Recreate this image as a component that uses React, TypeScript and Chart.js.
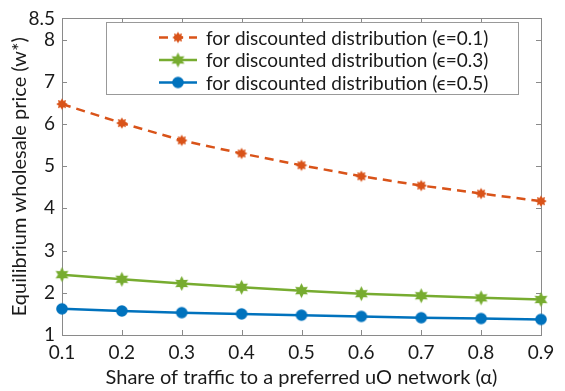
import React, { useEffect, useRef } from "react";
import { Chart, registerables } from "chart.js";

Chart.register(...registerables);

const alphaValues = [0.1, 0.2, 0.3, 0.4, 0.5, 0.6, 0.7, 0.8, 0.9];
const priceEps01 = [6.47, 6.02, 5.61, 5.3, 5.02, 4.76, 4.54, 4.35, 4.17];
const priceEps03 = [2.43, 2.32, 2.22, 2.13, 2.05, 1.98, 1.93, 1.88, 1.84];
const priceEps05 = [1.62, 1.57, 1.53, 1.5, 1.47, 1.44, 1.41, 1.39, 1.37];
const seriesLabels = [
  "for discounted distribution (\u03f5=0.1)",
  "for discounted distribution (\u03f5=0.3)",
  "for discounted distribution (\u03f5=0.5)",
];
const xTickValues = [0.1, 0.2, 0.3, 0.4, 0.5, 0.6, 0.7, 0.8, 0.9];
const yTickValues = [1, 2, 3, 4, 5, 6, 7, 8, 8.5];

const ORANGE = "#D95319";
const GREEN = "#77AC30";
const BLUE = "#0072BD";
const AXIS_GRAY = "#8a8a8a";
const FONT = "Lato, 'Open Sans', sans-serif";

function makeStar(points: number, outer: number, inner: number, color: string, rot: number) {
  const size = Math.ceil(outer * 2 + 2);
  const c = document.createElement("canvas");
  c.width = size;
  c.height = size;
  const ctx = c.getContext("2d")!;
  const cx = size / 2;
  const cy = size / 2;
  ctx.beginPath();
  for (let i = 0; i < points * 2; i++) {
    const r = i % 2 === 0 ? outer : inner;
    const a = rot + (Math.PI * i) / points;
    const x = cx + r * Math.sin(a);
    const y = cy - r * Math.cos(a);
    if (i === 0) ctx.moveTo(x, y);
    else ctx.lineTo(x, y);
  }
  ctx.closePath();
  ctx.fillStyle = color;
  ctx.fill();
  return c;
}

function makeCircle(r: number, color: string) {
  const size = Math.ceil(r * 2 + 2);
  const c = document.createElement("canvas");
  c.width = size;
  c.height = size;
  const ctx = c.getContext("2d")!;
  ctx.beginPath();
  ctx.arc(size / 2, size / 2, r, 0, Math.PI * 2);
  ctx.fillStyle = color;
  ctx.fill();
  return c;
}

const framePlugin = {
  id: "matlabFrame",
  beforeDatasetsDraw(chart: any) {
    const { ctx, chartArea, scales } = chart;
    const { left, right, top, bottom } = chartArea;
    const tl = 5;
    ctx.save();
    ctx.strokeStyle = AXIS_GRAY;
    ctx.lineWidth = 1;
    ctx.strokeRect(Math.round(left) + 0.5, Math.round(top) + 0.5, Math.round(right - left), Math.round(bottom - top));
    ctx.beginPath();
    scales.x.ticks.forEach((t: any) => {
      const x = Math.round(scales.x.getPixelForValue(t.value)) + 0.5;
      ctx.moveTo(x, bottom);
      ctx.lineTo(x, bottom - tl);
      ctx.moveTo(x, top);
      ctx.lineTo(x, top + tl);
    });
    scales.y.ticks.forEach((t: any) => {
      const y = Math.round(scales.y.getPixelForValue(t.value)) + 0.5;
      ctx.moveTo(left, y);
      ctx.lineTo(left + tl, y);
      ctx.moveTo(right, y);
      ctx.lineTo(right - tl, y);
    });
    ctx.stroke();
    ctx.restore();
  },
};

const legendPlugin = {
  id: "boxLegend",
  afterDatasetsDraw(chart: any) {
    const { ctx } = chart;
    const boxL = 106;
    const boxT = 22;
    const boxR = 518;
    const boxB = 94;
    const rows = [37.5, 60, 82.5];
    ctx.save();
    ctx.fillStyle = "#ffffff";
    ctx.fillRect(boxL, boxT, boxR - boxL, boxB - boxT);
    ctx.strokeStyle = "#999999";
    ctx.lineWidth = 1;
    ctx.strokeRect(boxL + 0.5, boxT + 0.5, boxR - boxL, boxB - boxT);
    chart.data.datasets.forEach((ds: any, i: number) => {
      const y = rows[i];
      ctx.beginPath();
      ctx.strokeStyle = ds.borderColor;
      ctx.lineWidth = ds.borderWidth;
      ctx.setLineDash(ds.borderDash || []);
      ctx.moveTo(159, y);
      ctx.lineTo(197, y);
      ctx.stroke();
      ctx.setLineDash([]);
      const img = ds.pointStyle as HTMLCanvasElement;
      ctx.drawImage(img, 178 - img.width / 2, y - img.height / 2);
      ctx.fillStyle = "#1a1a1a";
      ctx.font = `19px ${FONT}`;
      ctx.textAlign = "left";
      ctx.textBaseline = "middle";
      ctx.fillText(ds.label, 206, y + 1);
    });
    ctx.restore();
  },
};

export default function App() {
  const ref = useRef<HTMLCanvasElement | null>(null);
  useEffect(() => {
    if (!ref.current) return;
    const orangeMarker = makeStar(8, 5.8, 3.6, ORANGE, 0);
    const greenMarker = makeStar(6, 7.4, 4, GREEN, 0);
    const blueMarker = makeCircle(5.8, BLUE);
    const toPts = (ys: number[]) => alphaValues.map((x, i) => ({ x, y: ys[i] }));
    const chart = new Chart(ref.current, {
      type: "line",
      data: {
        datasets: [
          {
            label: seriesLabels[0],
            data: toPts(priceEps01),
            borderColor: ORANGE,
            backgroundColor: ORANGE,
            borderWidth: 2.5,
            borderDash: [9, 6],
            pointStyle: orangeMarker as any,
            clip: false as any,
          },
          {
            label: seriesLabels[1],
            data: toPts(priceEps03),
            borderColor: GREEN,
            backgroundColor: GREEN,
            borderWidth: 2.5,
            pointStyle: greenMarker as any,
            clip: false as any,
          },
          {
            label: seriesLabels[2],
            data: toPts(priceEps05),
            borderColor: BLUE,
            backgroundColor: BLUE,
            borderWidth: 2.5,
            pointStyle: blueMarker as any,
            clip: false as any,
          },
        ],
      },
      plugins: [framePlugin, legendPlugin],
      options: {
        animation: false,
        responsive: false,
        maintainAspectRatio: false,
        layout: { padding: { top: 13, right: 24, left: 0, bottom: 0 } },
        plugins: { legend: { display: false }, tooltip: { enabled: false } },
        scales: {
          x: {
            type: "linear",
            min: 0.1,
            max: 0.9,
            afterBuildTicks: (s: any) => {
              s.ticks = xTickValues.map((v) => ({ value: v }));
            },
            afterFit: (s: any) => {
              s.height = 56;
            },
            grid: { display: false, drawTicks: false },
            border: { display: false },
            ticks: {
              padding: 6,
              color: "#1a1a1a",
              font: { family: FONT, size: 19 },
              callback: (v: any) => Number(v).toFixed(1),
            },
            title: {
              display: true,
              text: "Share of traffic to a preferred uO network (\u03b1)",
              color: "#1a1a1a",
              font: { family: FONT, size: 20 },
              padding: { top: 0, bottom: 1 },
            },
          },
          y: {
            type: "linear",
            min: 1,
            max: 8.5,
            afterBuildTicks: (s: any) => {
              s.ticks = yTickValues.map((v) => ({ value: v }));
            },
            afterFit: (s: any) => {
              s.width = 62;
            },
            grid: { display: false, drawTicks: false },
            border: { display: false },
            ticks: {
              padding: 7,
              color: "#1a1a1a",
              font: { family: FONT, size: 19 },
              callback: (v: any) => String(v),
            },
            title: {
              display: true,
              text: "Equilibrium wholesale price (w*)",
              color: "#1a1a1a",
              font: { family: FONT, size: 20 },
              padding: { top: 8, bottom: 2 },
            },
          },
        },
      },
    });
    return () => chart.destroy();
  }, []);
  return (
    <div style={{ position: "absolute", left: 0, top: 0, width: 565, height: 391, background: "#fff" }}>
      <canvas ref={ref} width={565} height={391} style={{ display: "block", width: 565, height: 391 }} />
    </div>
  );
}
